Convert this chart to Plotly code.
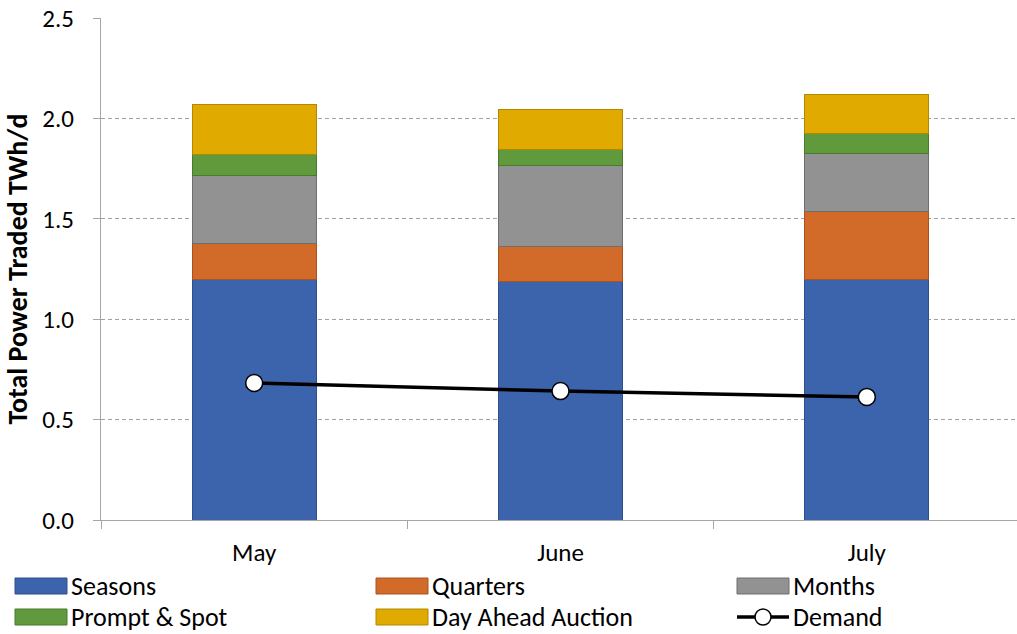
import plotly.graph_objects as go

months = ["May", "June", "July"]
seasons = [1.20, 1.19, 1.20]
quarters = [0.175, 0.17, 0.334]
months_prod = [0.343, 0.403, 0.289]
prompt_spot = [0.10, 0.08, 0.104]
day_ahead = [0.249, 0.199, 0.19]
demand = [0.682, 0.642, 0.613]

y_ticks = [0.0, 0.5, 1.0, 1.5, 2.0, 2.5]
y_tick_text = ["0.0", "0.5", "1.0", "1.5", "2.0", "2.5"]

series = [
    ("Seasons", seasons, "#3C64AD", "#2F4F8C"),
    ("Quarters", quarters, "#D26B2A", "#A95420"),
    ("Months", months_prod, "#929292", "#6E6E6E"),
    ("Prompt & Spot", prompt_spot, "#619A3D", "#4A7A2E"),
    ("Day Ahead Auction", day_ahead, "#E1AA00", "#B38800"),
]

FONT = "Carlito, Lato, sans-serif"

fig = go.Figure()
for name, vals, col, edge in series:
    fig.add_trace(go.Bar(
        x=months, y=vals, name=name, marker=dict(color=col, line=dict(color=edge, width=1)),
        showlegend=False,
    ))
fig.add_trace(go.Scatter(
    x=months, y=demand, name="Demand", mode="lines+markers",
    line=dict(color="black", width=3.5),
    marker=dict(symbol="circle", size=17, color="white", line=dict(color="black", width=1.5)),
    showlegend=False,
))

W, H = 1020, 634
L, R, T, B = 101, 0, 18, 114
pw, ph = W - L - R, H - T - B

def px(x):
    return (x - L) / pw

def py(y):
    return (H - B - y) / ph

shapes = []
annotations = []
legend_items = [
    ("Seasons", 15, 586, "#3C64AD", "#2F4F8C", "bar"),
    ("Quarters", 376, 586, "#D26B2A", "#A95420", "bar"),
    ("Months", 737, 586, "#929292", "#6E6E6E", "bar"),
    ("Prompt & Spot", 15, 617, "#619A3D", "#4A7A2E", "bar"),
    ("Day Ahead Auction", 376, 617, "#E1AA00", "#B38800", "bar"),
    ("Demand", 737, 617, None, None, "line"),
]
for label, x0, yc, col, edge, kind in legend_items:
    if kind == "bar":
        shapes.append(dict(type="rect", xref="paper", yref="paper",
                           x0=px(x0), x1=px(x0 + 52), y0=py(yc + 8), y1=py(yc - 8),
                           fillcolor=col, line=dict(color=edge, width=1)))
    else:
        shapes.append(dict(type="line", xref="paper", yref="paper",
                           x0=px(x0), x1=px(x0 + 52), y0=py(yc), y1=py(yc),
                           line=dict(color="black", width=3.5)))
        shapes.append(dict(type="circle", xref="paper", yref="paper",
                           x0=px(x0 + 26 - 8), x1=px(x0 + 26 + 8), y0=py(yc + 8), y1=py(yc - 8),
                           fillcolor="white", line=dict(color="black", width=1.5)))
    annotations.append(dict(text=label, xref="paper", yref="paper", x=px(x0 + 54), y=py(yc),
                            xanchor="left", yanchor="middle", showarrow=False,
                            font=dict(family=FONT, size=26, color="black")))

fig.update_layout(
    barmode="stack",
    bargap=0.595,
    width=W, height=H,
    margin=dict(l=L, r=R, t=T, b=B, pad=0),
    plot_bgcolor="white", paper_bgcolor="white",
    font=dict(family=FONT, color="black"),
    shapes=shapes,
    annotations=annotations,
    showlegend=False,
    xaxis=dict(
        showline=True, linecolor="#A6A6A6", linewidth=1,
        ticks="outside", tickson="boundaries", ticklen=8, tickcolor="#A6A6A6",
        tickfont=dict(family=FONT, size=25, color="black"),
        ticklabelstandoff=10,
        showgrid=False,
    ),
    yaxis=dict(
        range=[0, 2.5], tickvals=y_ticks, ticktext=y_tick_text,
        showline=True, linecolor="#A6A6A6", linewidth=1,
        ticks="outside", ticklen=7, tickcolor="#A6A6A6",
        tickfont=dict(family=FONT, size=25, color="black"),
        ticklabelstandoff=14,
        showgrid=True, gridcolor="#A0A0A0", gridwidth=1, griddash="4px,3px",
        zeroline=False,
        title=dict(text="<b>Total Power Traded TWh/d</b>", font=dict(family=FONT, size=28, color="black"), standoff=9),
    ),
)

fig.write_html("out.html", config={"displayModeBar": False},
               post_script="document.body.style.margin='0';document.body.style.overflow='hidden';")
